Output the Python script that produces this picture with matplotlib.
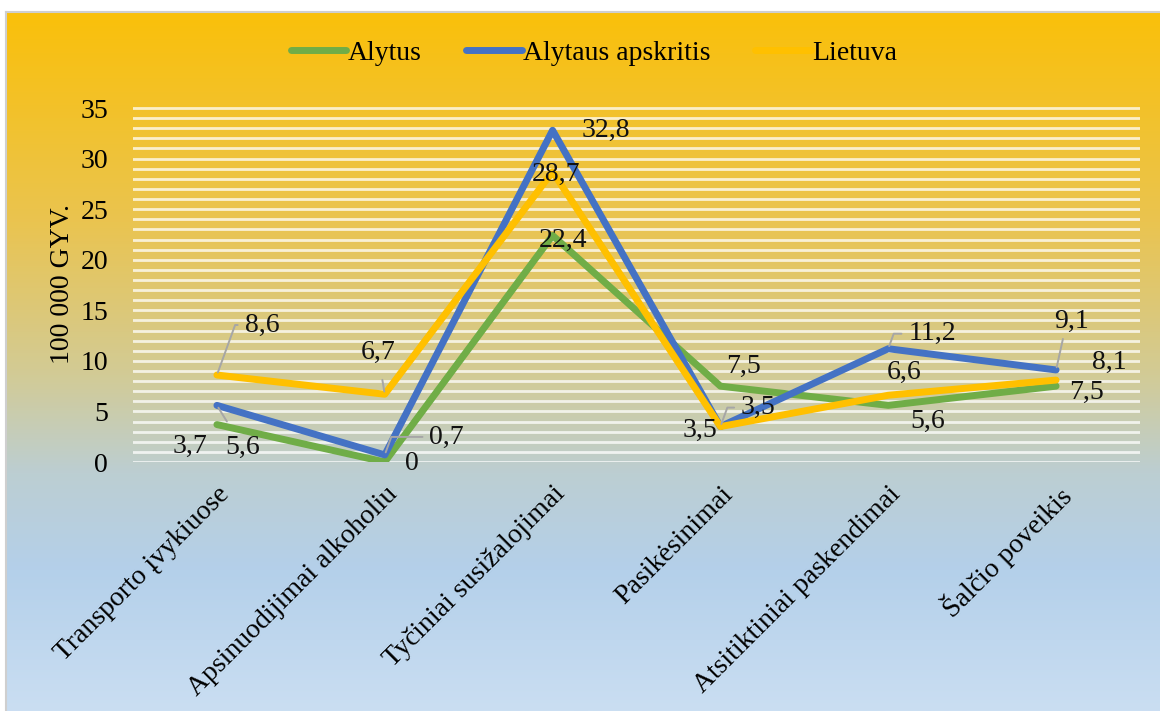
import numpy as np
import matplotlib
matplotlib.use('Agg')
from matplotlib import pyplot as plt
from matplotlib.colors import LinearSegmentedColormap

# duomenys
kategorijos = ['Transporto įvykiuose', 'Apsinuodijimai alkoholiu', 'Tyčiniai susižalojimai',
               'Pasikėsinimai', 'Atsitiktiniai paskendimai', 'Šalčio poveikis']
alytus = [3.7, 0, 22.4, 7.5, 5.6, 7.5]
apskritis = [5.6, 0.7, 32.8, 3.5, 11.2, 9.1]
lietuva = [8.6, 6.7, 28.7, 3.5, 6.6, 8.1]

# etikeciu poslinkiai (pikseliais) ir linijos tipas (None - be linijos)
alytus_off = [(-27, -22), (27, -1), (10, -5), (23, 20), (39, -16), (30, -6)]
apskritis_off = [(26, -42), (62, 18), (53, 0), (38, 19), (44, 15), (15, 49)]
lietuva_off = [(45, 50), (-7, 42), (3, -3), (-20, -4), (16, 23), (53, 18)]
alytus_lin = [None] * 6
apskritis_lin = ['tiesi', 'kampas', None, 'kampas', 'kampas', 'apacia']
lietuva_lin = ['kampas', 'tiesi', None, None, None, None]

plt.rcParams['font.family'] = ['Liberation Serif', 'DejaVu Serif']
FS = 20

fig = plt.figure(figsize=(11.6, 7.11), dpi=100)
fig.patch.set_facecolor('white')

# fono gradientas
bg = fig.add_axes([0.006, 0, 0.994, 0.983])
spalvos = [(0.0, (250/255, 192/255, 10/255)),
           (0.30, (234/255, 196/255, 80/255)),
           (0.52, (210/255, 203/255, 150/255)),
           (0.66, (188/255, 206/255, 210/255)),
           (0.80, (180/255, 208/255, 234/255)),
           (1.0, (202/255, 222/255, 242/255))]
cmap = LinearSegmentedColormap.from_list('fonas', spalvos)
grad = np.linspace(0, 1, 256).reshape(-1, 1)
bg.imshow(grad, aspect='auto', cmap=cmap, extent=[0, 1, 0, 1], origin='upper')
bg.set_axis_off()
# remelis
fig.add_artist(plt.Line2D([0.005, 1], [0.983, 0.983], color='#cfcfcf', lw=1.5))
fig.add_artist(plt.Line2D([0.005, 0.005], [0, 0.983], color='#cfcfcf', lw=1.5))

ax = fig.add_axes([133/1160, 1 - 462/711, (1140-133)/1160, (462-105)/711])
ax.set_facecolor('none')
x = np.arange(len(kategorijos))

ax.plot(x, alytus, color='#70AD47', lw=5, solid_joinstyle='round', solid_capstyle='round', label='Alytus', zorder=3)
ax.plot(x, apskritis, color='#4472C4', lw=5, solid_joinstyle='round', solid_capstyle='round', label='Alytaus apskritis', zorder=4)
ax.plot(x, lietuva, color='#FFC000', lw=5, solid_joinstyle='round', solid_capstyle='round', label='Lietuva', zorder=5)

def fmt(v):
    return ('%g' % v).replace('.', ',')

for vals, offs, lins in [(alytus, alytus_off, alytus_lin), (apskritis, apskritis_off, apskritis_lin),
                         (lietuva, lietuva_off, lietuva_lin)]:
    for i, v in enumerate(vals):
        kw = {}
        if lins[i] == 'tiesi':
            kw['arrowprops'] = dict(arrowstyle='-', color='#a6a6a6', lw=1.4, shrinkA=9, shrinkB=2)
        elif lins[i] == 'kampas':
            kw['arrowprops'] = dict(arrowstyle='-', color='#a6a6a6', lw=1.4, shrinkA=3, shrinkB=2,
                                    relpos=(0, 0.5), connectionstyle='angle,angleA=0,angleB=70,rad=0')
        elif lins[i] == 'apacia':
            kw['arrowprops'] = dict(arrowstyle='-', color='#a6a6a6', lw=1.4, shrinkA=2, shrinkB=2,
                                    relpos=(0.3, 0))
        ax.annotate(fmt(v), (i, v), xytext=offs[i], textcoords='offset pixels',
                    ha='center', va='center', fontsize=FS, color='#111111', zorder=6, **kw)

ax.set_xlim(-0.5, len(kategorijos) - 0.5)
ax.set_ylim(0, 35.3)
ax.set_yticks(np.arange(0, 36, 5))
ax.set_yticks(np.arange(0, 36, 1), minor=True)
ax.grid(True, which='both', axis='y', color='white', lw=2, alpha=0.75)
ax.tick_params(axis='y', which='both', length=0, labelsize=FS, pad=18)
ax.set_xticks(x)
ax.set_xticklabels(kategorijos, rotation=45, ha='right', rotation_mode='anchor', fontsize=FS)
ax.tick_params(axis='x', length=0, pad=14)
for s in ax.spines.values():
    s.set_visible(False)
ax.set_ylabel('100 000 GYV.', fontsize=FS, labelpad=4)

leg = fig.legend(loc='center', bbox_to_anchor=(0.512, 1 - 53/711), ncol=3, frameon=False,
                 fontsize=FS, handlelength=2.0, handletextpad=0.05, columnspacing=1.6)

fig.savefig('out.png', dpi=100)
